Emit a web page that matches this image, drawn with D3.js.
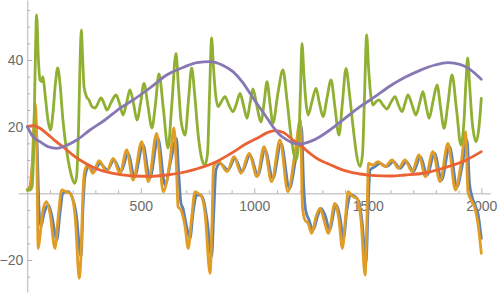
<!DOCTYPE html>
<html><head><meta charset="utf-8">
<script src="https://cdn.jsdelivr.net/npm/d3@7"></script>
<style>body{margin:0;background:#fff}svg{display:block}text{font-family:"Liberation Sans",Arial,sans-serif}</style>
</head><body><svg id="c" width="498" height="295"></svg>
<script>
const blueT=[0,12,25,36,43,52,60,74,93,109,130,144,157,179,197,215,237,245,254,272,294,320,353,382,413,444,472,510,540,576,607,633,657,668,677,686,699,717,730,746,761,776,792,812,822,831,849,884,915,946,981,1016,1047,1082,1118,1155,1184,1208,1217,1226,1241,1259,1278,1294,1314,1331,1360,1377,1393,1408,1426,1444,1461,1474,1492,1501,1510,1532,1554,1582,1613,1642,1670,1701,1732,1761,1794,1825,1860,1893,1915,1937,1948,1959,1972,1985,2000];
const blueV=[1,2,10,22,15,-5,-10,-6,-3.5,-7,-14,-6,0,0.5,-1,-6,-19,-5,5,8,6.5,9,7,10,6.5,12,5,14.5,4.5,16.5,2.5,10,16.5,5,-3,-4.5,-9,-13.5,-6,-0.5,-0.5,-2,-8,-19,-5,7,9,7,10.5,6.5,11.5,5.5,13,4.5,15,1.5,11,20,3,-5,-8,-11,-7,-4.5,-7,-11,-3.5,-7,-13.5,-5,-0.5,-1,-2.5,-8,-21,-5,7,8,9,8,9.5,7.5,9.5,6.5,11,5.5,12,4,14,2,8,16,3,-1,-3.5,-6,-13.5];
const orangeT=[0,12,21,30,35,41,48,56,69,85,100,122,135,152,170,188,201,212,229,237,245,254,267,289,316,350,378,408,438,466,504,533,570,599,629,646,657,664,677,695,709,723,739,752,768,783,805,814,820,844,880,911,941,977,1012,1043,1076,1113,1148,1179,1203,1212,1223,1237,1253,1272,1289,1307,1326,1355,1373,1388,1402,1413,1435,1452,1470,1488,1496,1503,1523,1545,1576,1607,1635,1664,1695,1725,1754,1787,1818,1853,1886,1911,1931,1941,1959,1972,1985,2000];
const orangeV=[1,2,8,22,27,18,-16.5,-13,-5,-2.5,-6,-16.5,-8,1,0.5,0,-2,-8,-25.5,-18,0,7,8.5,6,9.8,6.5,10.5,6,13,4,15.5,3.5,18,0.5,10,19.6,8,-4,-5,-10,-16.5,-8,0.5,0,-1,-6,-24,-8,8,9.5,6.5,11,6,12,5,14,3.5,16,0.5,12,22,-4,-8,-9,-12,-7,-4.5,-8,-12,-3,-8,-16.5,-7,0.5,-1,-1.5,-8,-24.5,-8,9,8.5,9.5,8,10,7.5,10,6.5,11.5,5,12.5,3.5,15,1,9,18.5,0.5,-2.5,-4.5,-9,-18];
const greenT=[0,12,21,27,34,41,49,56,63,69,78,91,102,113,124,134,144,157,175,192,208,217,226,232,238,243,250,261,272,285,300,311,325,338,351,371,391,406,422,437,452,468,483,499,514,532,549,565,580,600,620,637,655,666,677,695,710,724,737,752,770,783,794,803,812,820,829,840,855,871,888,906,922,937,952,968,981,994,1012,1029,1043,1056,1069,1082,1104,1126,1144,1162,1184,1197,1203,1210,1219,1228,1237,1254,1272,1287,1303,1320,1338,1355,1373,1388,1404,1419,1435,1452,1466,1477,1485,1495,1503,1512,1523,1536,1549,1567,1584,1602,1620,1635,1651,1664,1677,1695,1712,1728,1743,1756,1770,1787,1805,1820,1836,1853,1871,1891,1910,1924,1932,1940,1948,1959,1977,1990,2000];
const greenV=[1,1,2,10,35,53.5,40,34,33.5,35,30,22,19,24,33,37.6,33,22,12,6,3,5,20,38,49,42,32,29,28,26,25.6,27,28.6,27,25,27.5,29.5,27,23.5,27,31,27,22,27,33,26,19.6,27,35.8,25,13.6,27,42,32,22,17.5,28,37.6,30,18,10,8.5,12,30,46.6,38,30,26,27.5,29,26.5,24.5,27,30,26.5,22.5,27,31.3,26,21.4,27,33.5,27,21,30,37,28,17,10,18,30,45,35,27,23.5,27.5,31.5,27,23,28.5,34,26,17.5,27,37.5,30,20,11,8,12,28,47.5,38,30,26.5,27.5,28,26.5,25.3,27.3,29,26.5,24.5,27,29.5,26.5,23.5,27,30.5,26.5,22.5,27.5,32.5,26,19.5,27,35.5,25,14.5,22,33,40.6,33,22,15.5,20,28.5];
const redT=[0,25,56,85,122,157,197,232,276,320,386,466,540,615,673,739,818,893,968,1025,1060,1091,1126,1170,1210,1245,1280,1320,1364,1399,1466,1532,1598,1664,1752,1853,1928,2000];
const redV=[20,20.3,19.5,18,15.8,14,11.7,10,8.3,7,5.9,5.2,5.1,5.5,6.1,7.2,9,11.8,15,17,18.3,18.8,18.3,16,14,12,10.3,9,7.7,6.8,5.8,5.3,5.2,5.5,6.1,8,9.8,12.5];
const purpleT=[0,25,56,91,130,166,218,276,342,408,466,540,614,695,748,805,858,906,946,981,1016,1047,1082,1113,1144,1175,1201,1245,1289,1333,1399,1466,1532,1598,1664,1730,1796,1853,1906,1950,2000];
const purpleV=[20,17,15.5,14,13.5,14.2,16,19,22,25.5,28,31.6,35.5,38,39.2,39.5,38.5,36.5,33.5,30,26.5,23.5,20,17.5,16,15,14.8,15.5,17,19,22.5,26,29,32.2,34.8,36.9,38.5,39.2,38.7,37.2,34.2];
const xMajor=[500,1000,1500,2000];
const xMinor=[100,200,300,400,600,700,800,900,1100,1200,1300,1400,1600,1700,1800,1900];
const yMajor=[-20,20,40];
const yMinor=[-25,-15,-10,-5,5,10,15,25,30,35,45,50,55];

const svg=d3.select("#c");
const x=d3.scaleLinear().domain([-40,2040]).range([18.2,490.4]);
const y=d3.scaleLinear().domain([-29.6,58]).range([292,0]);
const axisCol="#b4b4b4", labCol="#6b6b6b";

const series=[
 {t:blueT,v:blueV,c:"#5E81B5"},
 {t:orangeT,v:orangeV,c:"#E19C24"},
 {t:greenT,v:greenV,c:"#8FB032"},
 {t:redT,v:redV,c:"#EB6235"},
 {t:purpleT,v:purpleV,c:"#8778B3"}
];

const gx=svg.append("g").attr("transform",`translate(0,${y(0)})`);
gx.append("g").call(d3.axisBottom(x).tickValues(xMinor).tickSizeInner(-3).tickSizeOuter(0).tickFormat(""))
  .call(g=>g.select(".domain").remove());
gx.append("g").call(d3.axisBottom(x).tickValues(xMajor).tickSizeInner(-5).tickSizeOuter(0).tickPadding(8).tickFormat(d3.format("d")));
const gy=svg.append("g").attr("transform",`translate(${x(0)},0)`);
gy.append("g").call(d3.axisLeft(y).tickValues(yMinor).tickSizeInner(-3).tickSizeOuter(0).tickFormat(""))
  .call(g=>g.select(".domain").remove());
gy.append("g").call(d3.axisLeft(y).tickValues(yMajor).tickSizeInner(-5).tickSizeOuter(0).tickPadding(4)
  .tickFormat(d=>d<0?"\u2212"+Math.abs(d):String(d)));
svg.selectAll(".domain, .tick line").attr("stroke",axisCol).attr("stroke-width",1);
svg.selectAll(".tick text").attr("fill",labCol).style("font-size","14px").style("font-family",'"Liberation Sans",Arial,sans-serif');

const line=d3.line().x(d=>x(d[0])).y(d=>y(d[1])).curve(d3.curveMonotoneX);
series.forEach(s=>{
  svg.append("path").datum(s.t.map((t,i)=>[t,s.v[i]]))
    .attr("d",line).attr("fill","none").attr("stroke",s.c)
    .attr("stroke-width",2.8).attr("stroke-linejoin","round").attr("stroke-linecap","round");
});
</script></body></html>
